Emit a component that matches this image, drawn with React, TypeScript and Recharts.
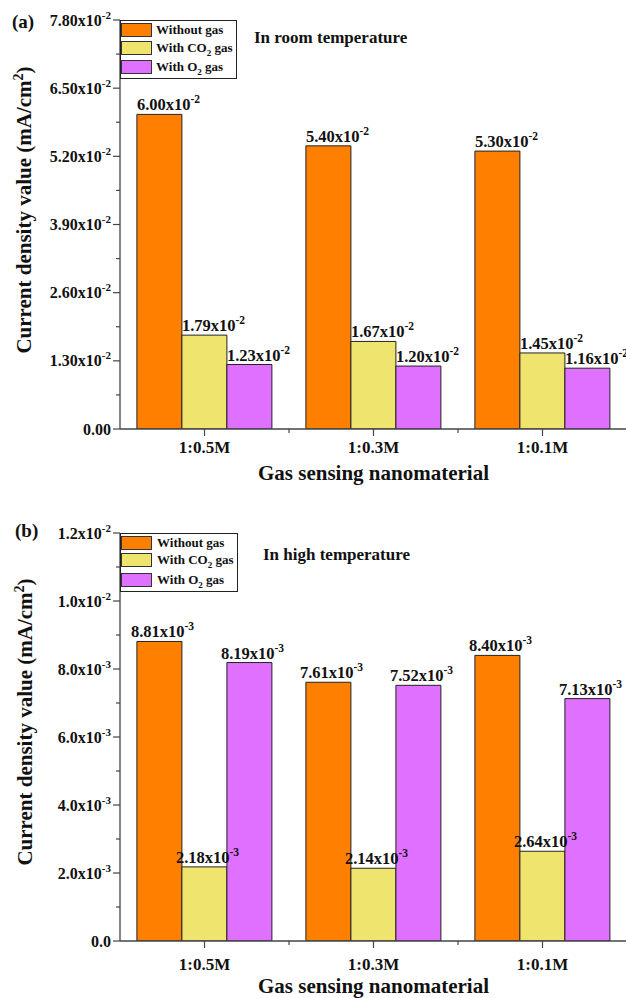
import { Bar, BarChart, LabelList, Legend, XAxis, YAxis } from "recharts";

const samples = ["1:0.5M", "1:0.3M", "1:0.1M"];
const seriesNames = ["Without gas", "With CO2 gas", "With O2 gas"];

// room temperature, mA/cm2
const roomWithout = [6.0e-2, 5.4e-2, 5.3e-2];
const roomCO2 = [1.79e-2, 1.67e-2, 1.45e-2];
const roomO2 = [1.23e-2, 1.2e-2, 1.16e-2];
const roomMajorTicks = [0, 0.013, 0.026, 0.039, 0.052, 0.065, 0.078];
const roomMinorTicks = [0.0065, 0.0195, 0.0325, 0.0455, 0.0585, 0.0715];

// high temperature, mA/cm2
const highWithout = [8.81e-3, 7.61e-3, 8.4e-3];
const highCO2 = [2.18e-3, 2.14e-3, 2.64e-3];
const highO2 = [8.19e-3, 7.52e-3, 7.13e-3];
const highMajorTicks = [0, 0.002, 0.004, 0.006, 0.008, 0.01, 0.012];
const highMinorTicks = [0.001, 0.003, 0.005, 0.007, 0.009, 0.011];

const FONT = "'Liberation Serif', 'Times New Roman', serif";
const AXIS = "#444";
const ORANGE = "#FF8000";
const YELLOW = "#EEE46E";
const PURPLE = "#E070FF";
const BAND = 169;

const roomData = samples.map((name, i) => ({
  name,
  without: roomWithout[i],
  co2: roomCO2[i],
  o2: roomO2[i],
}));

const highData = samples.map((name, i) => ({
  name,
  without: highWithout[i],
  co2: highCO2[i],
  o2: highO2[i],
}));

// "6.00x10" + superscript exponent
const sciParts = (v: number, digits: number) => {
  const [mant, exp] = v.toExponential(digits).split("e");
  return { mant, exp: String(Number(exp)) };
};

const YTick = (props: any) => {
  const { x, y, payload, majors, digits } = props;
  const major = majors.includes(payload.value);
  const v = payload.value as number;
  return (
    <g>
      <line x1={x - (major ? 7 : 4)} x2={x} y1={y} y2={y} stroke={AXIS} strokeWidth={1.2} />
      {major && (
        <text x={x - 9} y={y + 5.5} textAnchor="end" fontFamily={FONT} fontWeight="bold" fontSize={16} fill="#111">
          {v === 0 ? (0).toFixed(digits) : sciParts(v, digits).mant + "x10"}
          {v !== 0 && (
            <tspan dy={-7} fontSize={11}>
              {sciParts(v, digits).exp}
            </tspan>
          )}
        </text>
      )}
    </g>
  );
};

const XTick = (props: any) => {
  const { x, y, payload, index, labelDy } = props;
  return (
    <g>
      <line x1={x} x2={x} y1={y} y2={y + 7} stroke={AXIS} strokeWidth={1.2} />
      {index < samples.length - 1 && (
        <line x1={x + BAND / 2} x2={x + BAND / 2} y1={y} y2={y + 4} stroke={AXIS} strokeWidth={1.2} />
      )}
      <text x={x} y={y + labelDy} textAnchor="middle" fontFamily={FONT} fontWeight="bold" fontSize={17} fill="#111">
        {payload.value}
      </text>
    </g>
  );
};

const valueLabel = (dx: number, gap: number) => (props: any) => {
  const { x, y, value } = props;
  const { mant, exp } = sciParts(Number(value), 2);
  return (
    <text x={Number(x) + dx} y={Number(y) - gap} fontFamily={FONT} fontWeight="bold" fontSize={16.5} fill="#111">
      {mant}x10
      <tspan dy={-7} fontSize={11.5}>
        {exp}
      </tspan>
    </text>
  );
};

// "With CO2 gas" -> subscript digits
const withSubscripts = (name: string) =>
  name.split(/(\d)/).map((part, i) => (/\d/.test(part) ? <sub key={i} style={{ fontSize: 9 }}>{part}</sub> : <span key={i}>{part}</span>));

const legendContent = (width: number, rows: number[], textLeft: number) => (props: any) => {
  // keep the series order instead of the alphabetical one
  const items = [...(props.payload || [])].sort(
    (a: any, b: any) => seriesNames.indexOf(a.value) - seriesNames.indexOf(b.value)
  );
  return (
    <div
      style={{
        position: "relative",
        width,
        height: 59,
        boxSizing: "border-box",
        border: "1px solid #222",
        background: "#fff",
        fontFamily: FONT,
        fontWeight: "bold",
        fontSize: 13,
        color: "#111",
      }}
    >
      {items.map((item: any, i: number) => (
        <div key={item.value}>
          <div
            style={{
              position: "absolute",
              left: 0,
              top: rows[i],
              width: 31,
              height: 14,
              boxSizing: "border-box",
              border: "1px solid #333",
              background: item.color,
            }}
          />
          <div style={{ position: "absolute", left: textLeft, top: rows[i] - 1, lineHeight: "15px", whiteSpace: "nowrap" }}>
            {withSubscripts(item.value)}
          </div>
        </div>
      ))}
    </div>
  );
};

const YTitle = ({ x, y }: { x: number; y: number }) => (
  <text
    x={x}
    y={y}
    transform={`rotate(-90, ${x}, ${y})`}
    textAnchor="middle"
    fontFamily={FONT}
    fontWeight="bold"
    fontSize={21}
    fill="#111"
  >
    Current density value (mA/cm
    <tspan dy={-8} fontSize={14}>
      2
    </tspan>
    <tspan dy={8}>)</tspan>
  </text>
);

type PanelProps = {
  data: typeof roomData;
  height: number;
  top: number;
  xAxisHeight: number;
  domainMax: number;
  majors: number[];
  minors: number[];
  digits: number;
  letter: string;
  title: string;
  titleX: number;
  titleY: number;
  letterX: number;
  letterY: number;
  yTitleX: number;
  yTitleY: number;
  xLabelDy: number;
  xTitleY: number;
  labelDx: number;
  labelGap: number;
  legendWidth: number;
  legendRows: number[];
  legendTextLeft: number;
};

const Panel = (p: PanelProps) => (
  <div style={{ position: "relative", width: 626, height: p.height, overflow: "hidden" }}>
    <BarChart
      width={628}
      height={p.height}
      data={p.data}
      margin={{ top: p.top, right: 1, left: 0, bottom: 0 }}
      barCategoryGap="10%"
      barGap={0}
    >
      <XAxis
        dataKey="name"
        height={p.xAxisHeight}
        interval={0}
        tickSize={0}
        tickMargin={0}
        tickLine={false}
        axisLine={{ stroke: AXIS, strokeWidth: 1.3 }}
        tick={(t: any) => <XTick {...t} labelDy={p.xLabelDy} />}
      />
      <XAxis
        xAxisId="frame"
        dataKey="name"
        orientation="top"
        height={0}
        tick={false}
        tickLine={false}
        axisLine={{ stroke: AXIS, strokeWidth: 1.3 }}
      />
      <YAxis
        type="number"
        width={120}
        domain={[0, p.domainMax]}
        ticks={[...p.majors, ...p.minors]}
        interval={0}
        tickSize={0}
        tickMargin={0}
        tickLine={false}
        allowDataOverflow
        axisLine={{ stroke: AXIS, strokeWidth: 1.3 }}
        tick={(t: any) => <YTick {...t} majors={p.majors} digits={p.digits} />}
      />
      <Legend
        layout="horizontal"
        align="center"
        verticalAlign="middle"
        wrapperStyle={{ left: 120, top: p.top, width: p.legendWidth, height: 59 }}
        content={legendContent(p.legendWidth, p.legendRows, p.legendTextLeft)}
      />
      <Bar dataKey="without" name={seriesNames[0]} fill={ORANGE} stroke="#222" strokeWidth={1} isAnimationActive={false}>
        <LabelList dataKey="without" content={valueLabel(p.labelDx, p.labelGap)} />
      </Bar>
      <Bar dataKey="co2" name={seriesNames[1]} fill={YELLOW} stroke="#222" strokeWidth={1} isAnimationActive={false}>
        <LabelList dataKey="co2" content={valueLabel(p.labelDx, p.labelGap)} />
      </Bar>
      <Bar dataKey="o2" name={seriesNames[2]} fill={PURPLE} stroke="#222" strokeWidth={1} isAnimationActive={false}>
        <LabelList dataKey="o2" content={valueLabel(p.labelDx, p.labelGap)} />
      </Bar>
      <text x={p.letterX} y={p.letterY} fontFamily={FONT} fontWeight="bold" fontSize={19} fill="#111">
        {p.letter}
      </text>
      <text x={p.titleX} y={p.titleY} fontFamily={FONT} fontWeight="bold" fontSize={17} fill="#111">
        {p.title}
      </text>
      <YTitle x={p.yTitleX} y={p.yTitleY} />
      <text x={373.5} y={p.xTitleY} textAnchor="middle" fontFamily={FONT} fontWeight="bold" fontSize={21} fill="#111">
        Gas sensing nanomaterial
      </text>
    </BarChart>
  </div>
);

export default function App() {
  return (
    <div style={{ position: "absolute", left: 0, top: 0, width: 626, height: 998, background: "#fff", overflow: "hidden" }}>
      <Panel
        data={roomData}
        height={500}
        top={20}
        xAxisHeight={71}
        domainMax={0.078}
        majors={roomMajorTicks}
        minors={roomMinorTicks}
        digits={2}
        letter="(a)"
        title="In room temperature"
        titleX={254}
        titleY={43}
        letterX={12}
        letterY={28}
        yTitleX={30.5}
        yTitleY={210}
        xLabelDy={24}
        xTitleY={480}
        labelDx={0}
        labelGap={4}
        legendWidth={117}
        legendRows={[2, 20, 39]}
        legendTextLeft={35}
      />
      <Panel
        data={highData}
        height={498}
        top={33}
        xAxisHeight={57}
        domainMax={0.012}
        majors={highMajorTicks}
        minors={highMinorTicks}
        digits={1}
        letter="(b)"
        title="In high temperature"
        titleX={263}
        titleY={60}
        letterX={15}
        letterY={37}
        yTitleX={32}
        yTitleY={222}
        xLabelDy={29}
        xTitleY={493}
        labelDx={-6}
        labelGap={4}
        legendWidth={118}
        legendRows={[2, 19, 39]}
        legendTextLeft={36}
      />
    </div>
  );
}
